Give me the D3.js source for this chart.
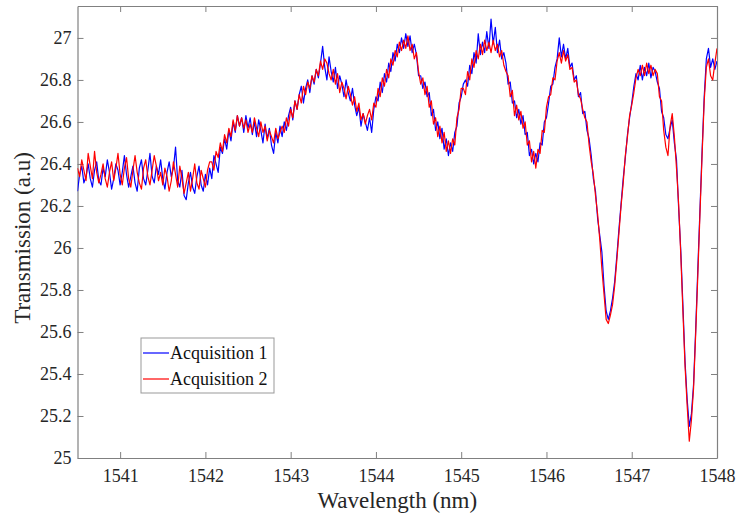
<!DOCTYPE html>
<html>
<head>
<meta charset="utf-8">
<script src="https://cdn.jsdelivr.net/npm/d3@7"></script>
<style>
  body { margin: 0; background: #fff; }
  text { font-family: "Liberation Serif", "DejaVu Serif", serif; }
</style>
</head>
<body>
<div id="chart"></div>
<script>
// wavelength grid of the acquisitions (nm)
var wlStart = 1540.5
var wlStep = 0.025

// transmission (a.u), one value per grid point
var acq1 = [
  26.27, 26.35, 26.39, 26.31, 26.34, 26.40, 26.33, 26.29, 26.37, 26.41,
  26.32, 26.30, 26.38, 26.34, 26.42, 26.36, 26.28, 26.33, 26.40, 26.37,
  26.30, 26.36, 26.44, 26.35, 26.29, 26.34, 26.39, 26.31, 26.27, 26.38,
  26.42, 26.33, 26.30, 26.37, 26.45, 26.34, 26.31, 26.39, 26.35, 26.42,
  26.33, 26.28, 26.36, 26.41, 26.34, 26.38, 26.48, 26.32, 26.29, 26.37,
  26.25, 26.23, 26.31, 26.36, 26.29, 26.26, 26.34, 26.39, 26.30, 26.27,
  26.35, 26.30, 26.38,
  26.33, 26.44, 26.40, 26.36, 26.48, 26.45, 26.52, 26.47, 26.56, 26.51, 26.60, 26.55, 26.63, 26.58, 26.62, 26.55, 26.63, 26.57,
  26.62, 26.54, 26.60, 26.53, 26.61, 26.56, 26.50, 26.59, 26.52, 26.57, 26.49, 26.45, 26.55, 26.50, 26.58, 26.53,
  26.60, 26.56, 26.63, 26.67, 26.61, 26.70, 26.66, 26.73, 26.77, 26.69, 26.76, 26.80, 26.74, 26.82, 26.78, 26.85, 26.81, 26.88, 26.96, 26.86,
  26.80, 26.91, 26.84, 26.79, 26.86, 26.76, 26.82, 26.78, 26.72, 26.80, 26.74, 26.70, 26.76, 26.68, 26.63, 26.67, 26.58, 26.64, 26.60, 26.56, 26.62, 26.55, 26.66, 26.72,
  26.70, 26.79, 26.74, 26.83, 26.79, 26.88, 26.84, 26.93, 26.89, 26.97, 26.93, 27.00, 26.95, 27.02, 26.96, 27.01, 26.93, 26.97, 26.92, 26.82,
  26.82, 26.76, 26.79, 26.72, 26.74, 26.63, 26.66, 26.56, 26.60, 26.52, 26.57, 26.47, 26.52, 26.44, 26.50, 26.46, 26.55, 26.58, 26.69, 26.72,
  26.78, 26.80, 26.77, 26.87, 26.83, 26.93, 26.88, 27.02, 26.92, 26.98, 26.93, 27.03, 26.95, 27.09, 26.97, 27.05, 26.93, 26.99, 26.90, 26.93,
  26.88, 26.78, 26.79, 26.69, 26.70, 26.62, 26.66, 26.59, 26.63, 26.54, 26.55, 26.44, 26.47, 26.40, 26.45, 26.41, 26.50, 26.49, 26.60, 26.62,
  26.69, 26.77, 26.78, 26.86, 26.90, 27.00, 26.91, 26.97, 26.90, 26.95, 26.86, 26.88, 26.80, 26.82, 26.72, 26.74, 26.64, 26.65, 26.56, 26.52,
  26.44, 26.33, 26.27, 26.14, 26.06, 25.98, 25.82, 25.70, 25.66, 25.70, 25.76, 25.84, 25.96, 26.09, 26.21, 26.33, 26.43, 26.54, 26.62, 26.69,
  26.77, 26.83, 26.80, 26.87, 26.80, 26.86, 26.82, 26.88, 26.81, 26.86, 26.84, 26.79, 26.76, 26.65, 26.62, 26.54, 26.52, 26.57, 26.61, 26.50,
  26.42, 26.19, 25.99, 25.73, 25.46, 25.28, 25.15, 25.21, 25.35, 25.61, 25.90, 26.18, 26.46, 26.72, 26.90, 26.95, 26.86, 26.90, 26.85, 26.89
]

var acq2 = [
  26.38, 26.34, 26.42, 26.37, 26.32, 26.45, 26.39, 26.33, 26.46, 26.36,
  26.31, 26.35, 26.40, 26.33, 26.29, 26.36, 26.41, 26.32, 26.38, 26.45,
  26.35, 26.30, 26.38, 26.43, 26.33, 26.29, 26.37, 26.44, 26.36, 26.31,
  26.28, 26.38, 26.42, 26.34, 26.30, 26.37, 26.44, 26.39, 26.32, 26.36,
  26.30, 26.38, 26.34, 26.27, 26.32, 26.41, 26.35, 26.29, 26.39, 26.33,
  26.26, 26.31, 26.36, 26.27, 26.33, 26.40, 26.31, 26.28, 26.37, 26.33,
  26.29, 26.37, 26.41,
  26.41, 26.37, 26.46, 26.43, 26.50, 26.46, 26.54, 26.50, 26.57, 26.53, 26.61, 26.56, 26.63, 26.58, 26.62, 26.57, 26.61, 26.55,
  26.59, 26.55, 26.62, 26.57, 26.53, 26.60, 26.55, 26.58, 26.51, 26.56, 26.53, 26.50, 26.57, 26.52, 26.55, 26.58,
  26.55, 26.62, 26.58, 26.66, 26.62, 26.70, 26.66, 26.73, 26.69, 26.77, 26.73, 26.79, 26.76, 26.82, 26.79, 26.85, 26.82, 26.89, 26.85, 26.90,
  26.88, 26.83, 26.80, 26.85, 26.78, 26.83, 26.74, 26.79, 26.76, 26.71, 26.77, 26.73, 26.68, 26.72, 26.65, 26.69, 26.61, 26.64, 26.59, 26.63, 26.66, 26.61, 26.69, 26.67,
  26.76, 26.72, 26.81, 26.77, 26.85, 26.81, 26.90, 26.87, 26.94, 26.91, 26.98, 26.94, 26.99, 26.95, 27.01, 26.94, 26.97, 26.90, 26.93, 26.84,
  26.78, 26.81, 26.73, 26.77, 26.67, 26.70, 26.59, 26.62, 26.53, 26.58, 26.50, 26.55, 26.46, 26.51, 26.45, 26.52, 26.49, 26.62, 26.66, 26.76,
  26.76, 26.73, 26.84, 26.80, 26.90, 26.86, 26.94, 26.90, 26.97, 26.92, 26.99, 26.94, 26.98, 26.93, 26.99, 26.94, 26.97, 26.91, 26.94, 26.87,
  26.84, 26.82, 26.72, 26.75, 26.63, 26.68, 26.61, 26.65, 26.57, 26.60, 26.49, 26.51, 26.41, 26.46, 26.38, 26.47, 26.45, 26.56, 26.55, 26.67,
  26.72, 26.73, 26.81, 26.80, 26.89, 26.93, 26.88, 26.94, 26.89, 26.92, 26.85, 26.86, 26.79, 26.80, 26.73, 26.71, 26.66, 26.62, 26.60, 26.49,
  26.41, 26.35, 26.25, 26.16, 26.04, 25.90, 25.78, 25.66, 25.64, 25.68, 25.73, 25.82, 25.94, 26.07, 26.20, 26.31, 26.44, 26.53, 26.63, 26.68,
  26.74, 26.81, 26.85, 26.82, 26.87, 26.82, 26.88, 26.83, 26.87, 26.82, 26.85, 26.83, 26.72, 26.70, 26.56, 26.48, 26.44, 26.58, 26.64, 26.53,
  26.38, 26.21, 25.97, 25.70, 25.44, 25.25, 25.08, 25.18, 25.33, 25.59, 25.87, 26.16, 26.44, 26.70, 26.86, 26.90, 26.82, 26.80, 26.88, 26.95
]

var seriesNames = ["Acquisition 1", "Acquisition 2"]
var seriesColors = ["#0000ff", "#ff0000"]

var xTicks = [1541, 1542, 1543, 1544, 1545, 1546, 1547, 1548]
var yTicks = [25, 25.2, 25.4, 25.6, 25.8, 26, 26.2, 26.4, 26.6, 26.8, 27]

// set the dimensions and margins of the graph
var margin = {top: 6, right: 22, bottom: 60, left: 77.5},
    width = 739 - margin.left - margin.right,
    height = 518 - margin.top - margin.bottom

var svg = d3.select("#chart")
    .append("svg")
    .attr("width", 739)
    .attr("height", 518)
    .append("g")
    .attr("transform", "translate(" + margin.left + "," + margin.top + ")")

var scale_x = d3.scaleLinear()
    .domain([1540.5, 1548])
    .range([0, width])

var scale_y = d3.scaleLinear()
    .domain([25, 27.152])
    .range([height, 0])

var axisColor = "#808080"
var labelColor = "#262626"

function styleAxis(g) {
    g.select(".domain").attr("stroke", axisColor).attr("stroke-width", 1.2)
    g.selectAll(".tick line").attr("stroke", axisColor).attr("stroke-width", 1)
    g.selectAll(".tick text")
        .attr("fill", labelColor)
        .style("font-size", "18px")
        .style("font-family", "'Liberation Serif', serif")
}

// box with inward ticks on all four sides
svg.append("g")
    .attr("transform", "translate(0," + height + ")")
    .call(d3.axisBottom(scale_x).tickValues(xTicks).tickSize(-6).tickSizeOuter(0).tickPadding(11).tickFormat(d3.format("d")))
    .call(styleAxis)

svg.append("g")
    .call(d3.axisLeft(scale_y).tickValues(yTicks).tickSize(-6).tickSizeOuter(0).tickPadding(6).tickFormat(d => String(+d.toFixed(1))))
    .call(styleAxis)

svg.append("g")
    .call(d3.axisTop(scale_x).tickValues(xTicks).tickSize(-6).tickSizeOuter(0).tickFormat(""))
    .call(styleAxis)

svg.append("g")
    .attr("transform", "translate(" + width + ",0)")
    .call(d3.axisRight(scale_y).tickValues(yTicks).tickSize(-6).tickSizeOuter(0).tickFormat(""))
    .call(styleAxis)

svg.append("clipPath")
    .attr("id", "plotClip")
    .append("rect")
    .attr("width", width)
    .attr("height", height)

var line = d3.line()
    .x((d, i) => scale_x(wlStart + i * wlStep))
    .y(d => scale_y(d))

var plot = svg.append("g").attr("clip-path", "url(#plotClip)")

;[acq1, acq2].forEach(function(values, k) {
    plot.append("path")
        .datum(values)
        .attr("d", line)
        .attr("fill", "none")
        .attr("stroke", seriesColors[k])
        .attr("stroke-width", 1.2)
        .attr("stroke-linejoin", "round")
})

// axis titles
svg.append("text")
    .attr("x", width / 2)
    .attr("y", height + 50)
    .attr("text-anchor", "middle")
    .attr("fill", labelColor)
    .style("font-size", "23px")
    .text("Wavelength (nm)")

svg.append("text")
    .attr("transform", "translate(" + (-48) + "," + (height / 2 + 6) + ") rotate(-90)")
    .attr("text-anchor", "middle")
    .attr("fill", labelColor)
    .style("font-size", "23px")
    .text("Transmission (a.u)")

// legend
var legend = svg.append("g")
    .attr("transform", "translate(" + (141 - margin.left) + "," + (338 - margin.top) + ")")

legend.append("rect")
    .attr("width", 133)
    .attr("height", 55)
    .attr("fill", "#fff")
    .attr("stroke", "#999")
    .attr("stroke-width", 1)

seriesNames.forEach(function(name, k) {
    var yy = 15 + k * 26
    legend.append("line")
        .attr("x1", 2).attr("x2", 28)
        .attr("y1", yy).attr("y2", yy)
        .attr("stroke", seriesColors[k])
        .attr("stroke-width", 1.2)
    legend.append("text")
        .attr("x", 29)
        .attr("y", yy + 6)
        .attr("fill", "#111")
        .style("font-size", "18px")
        .text(name)
})
</script>
</body>
</html>
